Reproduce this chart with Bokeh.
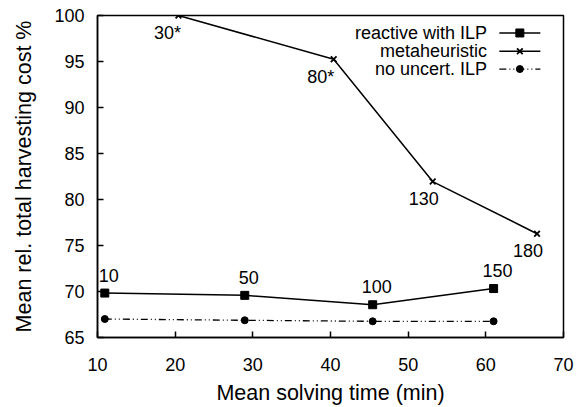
from bokeh.plotting import figure
from bokeh.models import ColumnDataSource, FixedTicker
from bokeh.core.properties import value
from bokeh.embed import file_html
from bokeh.resources import INLINE

# Data
reactive_x = [10.94, 28.96, 45.43, 61.0]
reactive_y = [69.83, 69.58, 68.56, 70.32]
reactive_labels = ["10", "50", "100", "150"]

meta_x = [20.42, 40.41, 53.16, 66.59]
meta_y = [100.0, 95.24, 81.95, 76.28]
meta_labels = ["30*", "80*", "130", "180"]

nounc_x = [10.94, 28.96, 45.43, 61.0]
nounc_y = [67.01, 66.87, 66.76, 66.76]

legend_names = ["reactive with ILP", "metaheuristic", "no uncert. ILP"]

x_ticks = [10, 20, 30, 40, 50, 60, 70]
y_ticks = [65, 70, 75, 80, 85, 90, 95, 100]

FONT = value("Liberation Sans")

p = figure(width=575, height=407, x_range=(10, 70), y_range=(65, 100),
           output_backend="svg", toolbar_location=None,
           min_border_left=97, min_border_right=12, min_border_top=15, min_border_bottom=61)
p.xgrid.visible = False
p.ygrid.visible = False
p.outline_line_color = "black"
p.outline_line_width = 1.5
p.background_fill_color = "white"
p.border_fill_color = "white"

for ax in (p.xaxis[0], p.yaxis[0]):
    ax.axis_line_width = 1.5
    ax.axis_line_color = "black"
    ax.major_tick_in = 6
    ax.major_tick_out = 0
    ax.major_tick_line_width = 1.5
    ax.minor_tick_line_color = None
    ax.major_label_text_font = "Liberation Sans"
    ax.major_label_text_font_size = "18px"
    ax.major_label_text_color = "black"
    ax.axis_label_text_font = "Liberation Sans"
    ax.axis_label_text_font_size = "21.5px"
    ax.axis_label_text_font_style = "normal"
    ax.axis_label_text_color = "black"

p.xaxis.ticker = FixedTicker(ticks=x_ticks)
p.yaxis.ticker = FixedTicker(ticks=y_ticks)
p.xaxis.axis_label = "Mean solving time (min)"
p.yaxis.axis_label = "Mean rel. total harvesting cost %"
p.xaxis.major_label_standoff = 20
p.yaxis.major_label_standoff = 13
p.xaxis.axis_label_standoff = 7
p.yaxis.axis_label_standoff = 15

# Series
p.line(nounc_x, nounc_y, line_color="black", line_width=1.3, line_dash="7 3 1 3 1 3")
p.scatter(nounc_x, nounc_y, marker="circle", size=7, fill_color="black", line_color="black")

p.line(reactive_x, reactive_y, line_color="black", line_width=1.5)
p.scatter(reactive_x, reactive_y, marker="square", size=8, fill_color="black", line_color="black")

p.line(meta_x, meta_y, line_color="black", line_width=1.5)
p.scatter(meta_x, meta_y, marker="x", size=8, line_color="black", line_width=1.8)

# Point labels
rsrc = ColumnDataSource(dict(x=reactive_x, y=reactive_y, t=reactive_labels))
p.text(x="x", y="y", text="t", source=rsrc, x_offset=4, y_offset=-18,
       text_align="center", text_baseline="middle", text_font=FONT,
       text_font_size="18px", text_color="black")

meta_dx = [-11, -13, -9, -9]
meta_dy = [17, 18, 17, 17]
msrc = ColumnDataSource(dict(x=meta_x, y=meta_y, t=meta_labels, dx=meta_dx, dy=meta_dy))
p.text(x="x", y="y", text="t", source=msrc, x_offset="dx", y_offset="dy",
       text_align="center", text_baseline="middle", text_font=FONT,
       text_font_size="18px", text_color="black")

# Manual legend (text to the left of sample)
leg_y = [98.10, 96.12, 94.18]
leg_text_x = 60.16
leg_x0, leg_x1, leg_xm = 61.74, 67.02, 64.38
p.text(x=[leg_text_x] * 3, y=leg_y, text=legend_names, text_align="right",
       text_baseline="middle", text_font=FONT, text_font_size="18px", text_color="black")
p.line([leg_x0, leg_x1], [leg_y[0]] * 2, line_color="black", line_width=1.5)
p.scatter([leg_xm], [leg_y[0]], marker="square", size=8, fill_color="black", line_color="black")
p.line([leg_x0, leg_x1], [leg_y[1]] * 2, line_color="black", line_width=1.5)
p.scatter([leg_xm], [leg_y[1]], marker="x", size=8, line_color="black", line_width=1.8)
p.line([leg_x0, leg_x1], [leg_y[2]] * 2, line_color="black", line_width=1.3, line_dash="7 3 1 3 1 3")
p.scatter([leg_xm], [leg_y[2]], marker="circle", size=7, fill_color="black", line_color="black")

open("out.html", "w").write(file_html(p, INLINE))
